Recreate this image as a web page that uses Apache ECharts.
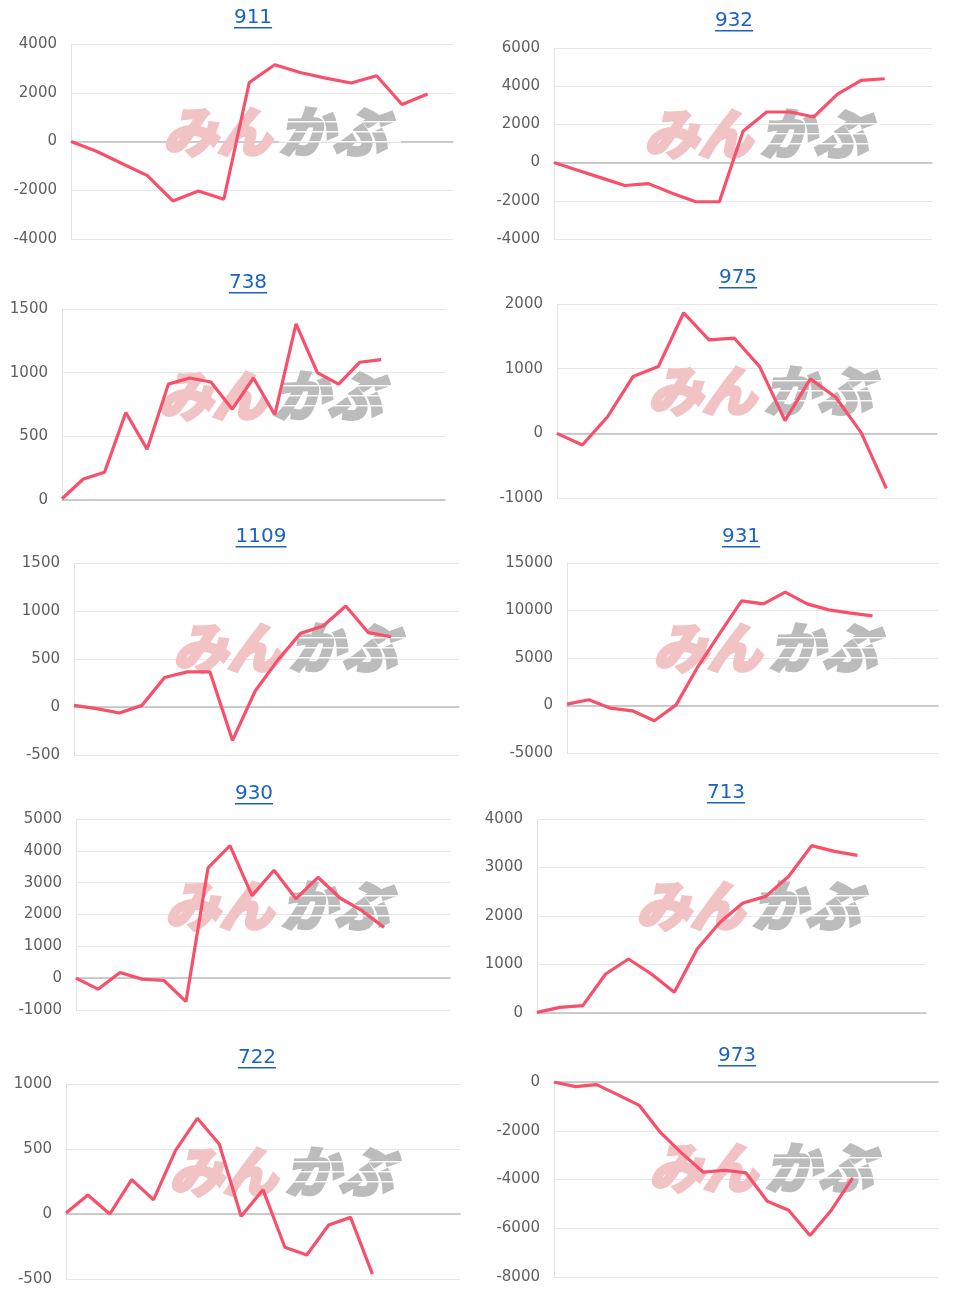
<!DOCTYPE html>
<html>
<head>
<meta charset="utf-8">
<script src="https://cdn.jsdelivr.net/npm/echarts@6/dist/echarts.min.js"></script>
<style>
html,body{margin:0;padding:0;background:#fff;}
#c{width:960px;height:1296px;}
</style>
</head>
<body>
<div id="c"></div>
<script>
// ---- data ----
const titles = ['911','932','738','975','1109','931','930','713','722','973'];
const v911  = [0,-400,-900,-1400,-2440,-2030,-2370,2420,3150,2830,2600,2400,2700,1520,1950];
const v932  = [0,-400,-800,-1200,-1100,-1600,-2050,-2050,1640,2650,2650,2390,3590,4300,4390];
const v738  = [10,165,218,687,398,910,958,927,713,958,669,1384,1000,910,1082,1103];
const v975  = [0,-180,258,878,1032,1864,1446,1471,1032,196,842,558,15,-852];
const v1109 = [17,-17,-63,17,307,366,366,-348,167,488,767,843,1052,774,732];
const v931  = [140,600,-280,-560,-1610,70,4100,7600,11020,10700,11930,10700,10070,9720,9440];
const v930  = [0,-346,178,-31,-73,-735,3463,4166,2592,3390,2497,3169,2518,2120,1595];
const v713  = [14,117,151,804,1113,804,426,1320,1870,2268,2405,2818,3450,3333,3251];
const v722  = [8,146,0,264,110,487,736,538,-18,187,-256,-315,-85,-26,-462];
const v973  = [0,-190,-110,-530,-960,-2080,-2930,-3700,-3620,-3730,-4890,-5260,-6300,-5260,-3930];
const seriesValues = [v911,v932,v738,v975,v1109,v931,v930,v713,v722,v973];
// number of x slots (days) on each panel's axis
const slotCounts = [16,17,19,16,18,18,18,18,19,19];
// y axis tick settings
const yMin  = [-4000,-4000,0,-1000,-500,-5000,-1000,0,-500,-8000];
const yMax  = [4000,6000,1500,2000,1500,15000,5000,4000,1000,0];
const yStep = [2000,2000,500,1000,500,5000,1000,1000,500,2000];

// ---- layout ----
const boxes = [
  [71,44,453,239],[554,48,932,239],
  [62,309,445,500],[557,304,937,498],
  [74,563,459,755],[567,563,938,753],
  [76,819,450,1010],[537,819,926,1013],
  [66,1084,460,1279],[554,1082,938,1277]
];
const titlePos = [[253,18],[734,21],[248,283],[738,278],[261,537],[741,537],[254,794],[726,793],[257,1058],[737,1056]];
const markPos = [[275,129],[756,131],[270,393],[760,388],[285,645],[765,645],[277,903],[748,903],[281,1169],[761,1165]];

const LINE = '#f8506b';
const FONT = "'DejaVu Sans', sans-serif";
const measure = (() => { const cv=document.createElement('canvas').getContext('2d'); return (t,f)=>{cv.font=f;return cv.measureText(t).width;}; })();

const grid=[], xAxis=[], yAxis=[], series=[], graphic=[];
seriesValues.forEach((vals,i)=>{
  const b = boxes[i];
  grid.push({left:b[0], top:b[1], width:b[2]-b[0], height:b[3]-b[1], containLabel:false});
  const cats = Array.from({length:slotCounts[i]},(_,k)=>String(k+1));
  xAxis.push({type:'category', gridIndex:i, data:cats, boundaryGap:false,
    axisLine:{show:true,onZero:true,lineStyle:{color:'#bdbdbd',width:1.5}},
    axisTick:{show:false}, axisLabel:{show:false}, splitLine:{show:false}});
  yAxis.push({type:'value', gridIndex:i, min:yMin[i], max:yMax[i], interval:yStep[i],
    axisLine:{show:true,lineStyle:{color:'#e3e3e3',width:1}},
    axisTick:{show:false},
    axisLabel:{color:'#5f5f5f',fontSize:15,fontFamily:FONT,margin:14,formatter:v=>String(v)},
    splitLine:{show:true,lineStyle:{color:'#e6e6e6',width:1}}});
  const data = cats.map((_,k)=> k<vals.length ? vals[k] : null);
  series.push({type:'line', xAxisIndex:i, yAxisIndex:i, data:data, showSymbol:false, symbol:'none',
    lineStyle:{color:LINE,width:3.2}, z:5, animation:false, connectNulls:false});

  // title with underline
  const tp = titlePos[i];
  const tf = '20px '+FONT;
  const tw = measure(titles[i], tf);
  graphic.push({type:'text', x:tp[0], y:tp[1], z:10,
    style:{text:titles[i], font:tf, fill:'#1a62c4', align:'center', verticalAlign:'middle'}});
  graphic.push({type:'rect', x:tp[0]-tw/2, y:tp[1]+9, z:10,
    shape:{width:tw, height:1.6}, style:{fill:'#1a62c4'}});

  // watermark
  const mp = markPos[i];
  const mf = "italic bold 54px 'Noto Sans CJK JP', sans-serif";
  graphic.push({type:'text', x:mp[0]-4, y:mp[1]+2, z:1,
    style:{text:'みん', font:mf, fill:'#f1c3c5', stroke:'#f1c3c5', lineWidth:4, align:'right', verticalAlign:'middle'}});
  graphic.push({type:'text', x:mp[0]+4, y:mp[1]+2, z:1,
    style:{text:'かぶ', font:mf, fill:'#bcbcbc', stroke:'#bcbcbc', lineWidth:4, align:'left', verticalAlign:'middle'}});
  [-8,2,12].forEach(dy=>{
    graphic.push({type:'rect', x:mp[0]+4, y:mp[1]+dy, z:2, shape:{width:122,height:1.6}, style:{fill:'rgba(255,255,255,0.9)'}});
  });
});

const chart = echarts.init(document.getElementById('c'), null, {renderer:'canvas'});
chart.setOption({animation:false, backgroundColor:'#fff', grid, xAxis, yAxis, series, graphic});
</script>
</body>
</html>
